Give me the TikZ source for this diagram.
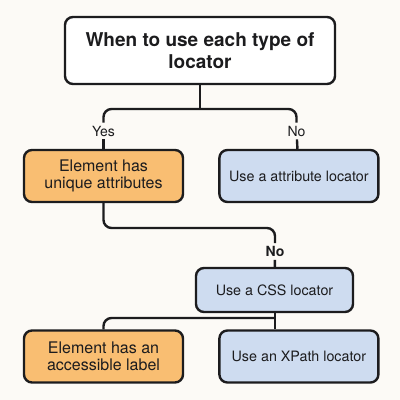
\documentclass[tikz,border=0pt]{standalone}
\usepackage{fontspec}
\setmainfont{TeX Gyre Heros}
\usetikzlibrary{positioning}
\definecolor{bgpaper}{RGB}{252,250,246}
\definecolor{boxorange}{RGB}{249,190,114}
\definecolor{boxblue}{RGB}{206,220,240}
\definecolor{inkdark}{RGB}{28,28,30}

\begin{document}
\begin{tikzpicture}[x=1pt,y=-1pt,line width=2.4pt,draw=inkdark,
                    rounded corners=8pt]
  \tikzstyle{every node}=[text=inkdark]
  \tikzstyle{topic}=[rectangle,draw=inkdark,fill=white,minimum width=270pt,
    minimum height=67pt,align=center,font=\bfseries\fontsize{19}{22.5}\selectfont]
  \tikzstyle{question}=[rectangle,draw=inkdark,fill=boxorange,minimum width=159pt,
    minimum height=52pt,align=center,font=\fontsize{16}{17.5}\selectfont]
  \tikzstyle{answer}=[rectangle,draw=inkdark,fill=boxblue,minimum width=159pt,
    minimum height=52pt,align=center,font=\fontsize{14.3}{16}\selectfont]
  \tikzstyle{choice}=[inner sep=2pt,font=\fontsize{14}{16}\selectfont]

  \fill[bgpaper,sharp corners] (0,0) rectangle (400,400);
  \useasboundingbox (0,0) rectangle (400,400);

  \node[topic] (T) at (200,50.5) {When to use each type of\\locator};
  \node[question] (Q1) at (103.5,176) {Element has\\unique attributes};
  \node[answer] (A1) [right=34pt of Q1] {Use a attribute locator};
  \node[choice] (Y1) at (103.5,131) {Yes};
  \node[choice] (N1) at (296.5,131) {No};
  \node[answer,minimum width=157pt,minimum height=44pt] (A2) at (274.5,290) {Use a CSS locator};
  \node[choice,font=\bfseries\fontsize{14}{16}\selectfont] (N2) at (275,251.5) {No};
  \node[question] (Q2) at (103.5,356.5) {Element has an\\accessible label};
  \node[answer] (A3) [right=34pt of Q2] {Use an XPath locator};

  \coordinate (s1) at (200,109);
  \coordinate (s2) at (275,228);
  \coordinate (s3) at (275,318);

  % top split
  \draw (T) -- (s1);
  \draw (Y1) |- (s1) -| (N1);
  \path (Y1) edge (Q1)
        (N1) edge (A1);
  % no unique attributes
  \draw (Q1) |- (s2) -- (N2);
  \path (N2) edge (A2);
  % below the css box
  \draw (Q2) |- (s3);
  \draw (A2.south -| s3) -- (s3 |- A3.north);
\end{tikzpicture}
\end{document}
